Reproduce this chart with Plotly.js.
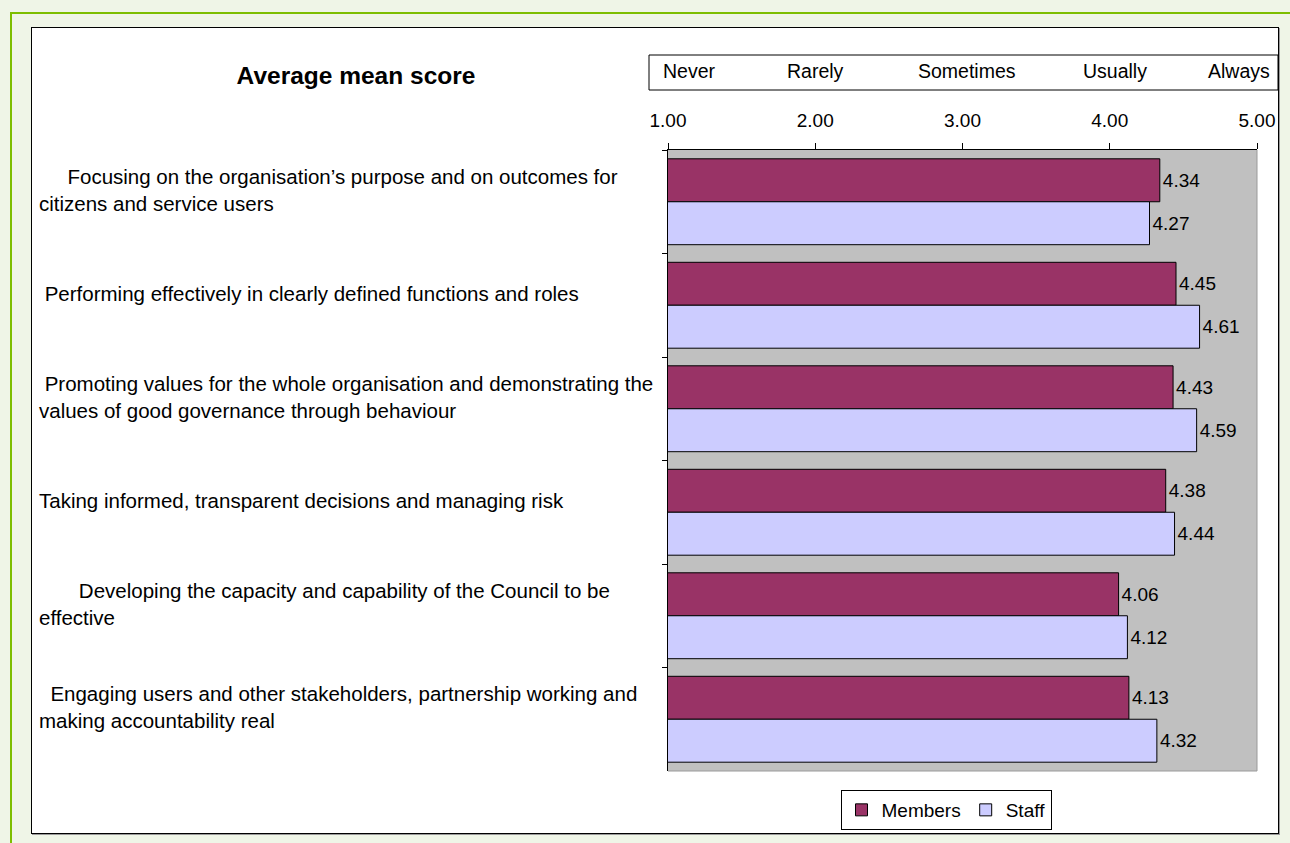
<!DOCTYPE html>
<html>
<head>
<meta charset="utf-8">
<script src="https://cdn.plot.ly/plotly-3.0.1.min.js"></script>
<style>
  html, body { margin:0; padding:0; width:1290px; height:843px; overflow:hidden; background:#EFF5E7; }
  #outer { position:absolute; left:10px; top:12px; width:1300px; height:860px;
           border-left:2px solid #7DBE00; border-top:2px solid #7DBE00; background:#EFF5E7; }
  #frame { position:absolute; left:31px; top:27px; width:1246px; height:805px;
           border:1px solid #000; background:#fff; box-shadow:1px 1px 0 #9a9a9a; }
  #chart { width:1246px; height:805px; }
</style>
</head>
<body>
<div id="outer"></div>
<div id="frame"><div id="chart"></div></div>
<script>
// ---- data ----
const categories = [
  "Focusing on the organisation’s purpose and on outcomes for<br>citizens and service users",
  "Performing effectively in clearly defined functions and roles",
  "Promoting values for the whole organisation and demonstrating the<br>values of good governance through behaviour",
  "Taking informed, transparent decisions and managing risk",
  "Developing the capacity and capability of the Council to be<br>effective",
  "Engaging users and other stakeholders, partnership working and<br>making accountability real"
];
const seriesNames = ["Members", "Staff"];
const members = [4.34, 4.45, 4.43, 4.38, 4.06, 4.13];
const staff   = [4.27, 4.61, 4.59, 4.44, 4.12, 4.32];
const scaleLabels = ["Never", "Rarely", "Sometimes", "Usually", "Always"];
const chartTitle = "Average mean score";

// ---- layout helpers (page pixel -> paper coords) ----
const FONT = "Liberation Sans, Arial, Helvetica, sans-serif";
const PL = 668, PR = 1257, PT = 150, PB = 771;     // plot area in page px
const FX = 32, FY = 28, FW = 1246, FH = 805;         // chart div in page px
const px = X => (X - PL) / (PR - PL);
const py = Y => (PB - Y) / (PB - PT);

const traces = [
  { type:'bar', orientation:'h', name:seriesNames[0], y:categories, x:members,
    marker:{color:'#993366', line:{color:'#000', width:1}},
    texttemplate:'%{x:.2f}', textposition:'outside', cliponaxis:false,
    textfont:{family:FONT, size:19, color:'#000'}, hoverinfo:'x+name' },
  { type:'bar', orientation:'h', name:seriesNames[1], y:categories, x:staff,
    marker:{color:'#CCCCFF', line:{color:'#000', width:1}},
    texttemplate:'%{x:.2f}', textposition:'outside', cliponaxis:false,
    textfont:{family:FONT, size:19, color:'#000'}, hoverinfo:'x+name' }
];

// category label annotations (left-aligned, with the original leading indents)
const indents = [5, 1, 1, 0, 7, 2];
const annotations = categories.map((c, i) => ({
  xref:'paper', yref:'y', x:px(37), y:c, xanchor:'left', yanchor:'middle',
  yshift:12, align:'left', showarrow:false,
  text:'\u00A0'.repeat(indents[i]) + c,
  font:{family:FONT, size:20.5, color:'#000'}
}));

// scale-word annotations in the top box
const wordX = [661, 815, 967, 1115, 1272];
const wordAnchor = ['left', 'center', 'center', 'center', 'right'];
scaleLabels.forEach((w, i) => annotations.push({
  xref:'paper', yref:'paper', x:px(wordX[i]), y:py(71), xanchor:wordAnchor[i], yanchor:'middle',
  showarrow:false, text:w, font:{family:FONT, size:19.5, color:'#000'}
}));

const layout = {
  width:FW, height:FH,
  paper_bgcolor:'#fff', plot_bgcolor:'#C0C0C0',
  margin:{l:PL-FX, r:FX+FW-PR, t:PT-FY, b:FY+FH-PB, pad:0, autoexpand:false},
  font:{family:FONT, color:'#000'},
  title:{text:'<b>' + chartTitle + '</b>', font:{family:FONT, size:24.5, color:'#000'},
         xref:'container', yref:'container', x:(356-FX)/FW, y:1-(75-FY)/FH,
         xanchor:'center', yanchor:'middle'},
  barmode:'group', bargap:0.17, bargroupgap:0,
  xaxis:{side:'top', range:[1,5], dtick:1, tick0:1, tickformat:'.2f',
         ticks:'outside', ticklen:6, tickcolor:'#000', tickwidth:1, automargin:false,
         showline:true, linecolor:'#000', linewidth:1, showgrid:false, zeroline:false,
         tickfont:{family:FONT, size:19, color:'#000'}, ticklabelstandoff:8, fixedrange:true},
  yaxis:{type:'category', autorange:'reversed', showticklabels:false, automargin:false,
         ticks:'outside', tickson:'boundaries', ticklen:5, tickcolor:'#000', tickwidth:1,
         showline:true, linecolor:'#000', linewidth:1, showgrid:false, zeroline:false, fixedrange:true},
  legend:{orientation:'h', x:px(946), xanchor:'center', y:py(790), yanchor:'top',
          bgcolor:'#fff', bordercolor:'#000', borderwidth:1, itemwidth:30,
          font:{family:FONT, size:19, color:'#000'}, traceorder:'normal'},
  shapes:[
    {type:'rect', xref:'paper', yref:'paper', x0:px(649), x1:px(1278), y0:py(90), y1:py(55),
     line:{color:'#000', width:1}, fillcolor:'rgba(0,0,0,0)'},
    {type:'line', xref:'paper', yref:'paper', x0:1, x1:1, y0:0, y1:1, line:{color:'#9a9a9a', width:1}},
    {type:'line', xref:'paper', yref:'paper', x0:0, x1:1, y0:0, y1:0, line:{color:'#9a9a9a', width:1}}
  ],
  annotations:annotations,
  showlegend:true
};

Plotly.newPlot('chart', traces, layout, {displayModeBar:false});
</script>
</body>
</html>
